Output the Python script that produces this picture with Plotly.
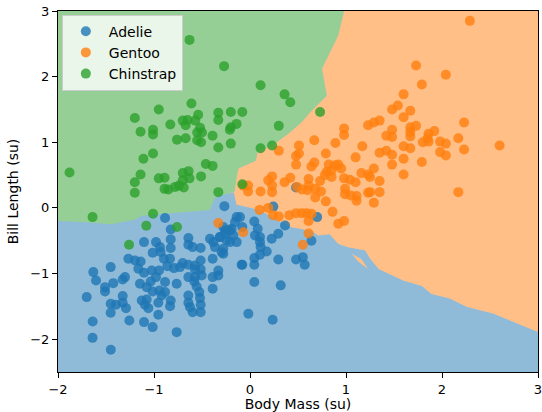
import plotly.graph_objects as go

# ---------------- data (standardised units) ----------------
adelie_x = [-0.885, -0.826, -1.104, -0.979, -0.938, -1.014, -0.931, -0.826, -0.826, -0.642,
            -0.642, -0.597, -0.514, -0.417, -0.382, -0.365, -0.313, -0.26, -0.191, -0.174,
            -0.243, -0.278, -0.278, -0.208, -0.139, -0.156, -0.104, -1.267, -1.198, -1.139,
            -1.163, -1.451, -1.632, -1.604, -1.104, -1.024, -0.948, -0.979, -1.035, -0.896,
            -0.833, -0.861, -0.792, -0.729, -0.701, -0.642, -0.514, -0.573, -0.573, -0.514,
            -0.503, -0.573, -0.642, -0.389, -0.389, -0.33, -0.33, -0.087, -1.302, -1.326,
            -1.424, -1.51, -1.51, -1.701, -1.146, -1.076, -1.014, -0.944, -0.885, -0.885,
            -0.92, -0.955, -0.826, -0.833, -0.764, -0.58, -0.556, -0.528, -0.642, -0.642,
            -0.625, -0.597, -0.521, -0.514, -0.514, -0.389, -1.326, -1.326, -1.396, -1.451,
            -1.451, -1.292, -1.128, -1.094, -1.059, -1.076, -0.955, -1.104, -1.014, -1.257,
            -1.639, -0.764, -1.64, -1.45, -0.267, -0.139, -0.208, -0.08, 0.045, 0.08,
            0.052, 0.104, 0.104, 0.111, 0.174, 0.104, 0.045, 0.045, 0.226, 0.295,
            0.365, 0.243, 0.48, 0.70, 0.64, 0.295, 0.48, 0.55, 0.57, -0.08,
            0.045, 0.32, -0.017, 0.236, -0.278, -0.26, -0.313, -0.295, -0.226]
adelie_y = [-0.155, -0.328, -0.521, -0.521, -0.597, -0.684, -0.673, -0.48, -0.612, -0.46,
            -0.561, -0.597, -0.612, -0.47, -0.521, -0.597, -0.445, -0.343, -0.318, -0.419,
            -0.495, -0.622, -0.699, -0.521, -0.521, -0.216, -0.14, -0.775, -0.8, -0.816,
            -0.927, -0.902, -0.978, -1.105, -0.988, -0.953, -0.953, -1.054, -1.12, -0.775,
            -0.775, -0.887, -0.917, -0.902, -0.841, -0.866, -0.8, -0.877, -0.937, -0.937,
            -1.029, -1.054, -1.054, -0.775, -1.054, -1.029, -0.953, -0.866, -1.054, -1.09,
            -1.146, -1.207, -1.273, -1.359, -1.156, -1.207, -1.273, -1.258, -1.13, -1.283,
            -1.334, -1.446, -1.41, -1.497, -1.156, -1.12, -1.197, -1.283, -1.334, -1.446,
            -1.512, -1.588, -1.374, -1.476, -1.588, -1.232, -1.344, -1.446, -1.476, -1.461,
            -1.598, -1.527, -1.41, -1.476, -1.527, -1.395, -1.628, -1.74, -1.816, -1.715,
            -1.73, -1.893, -1.98, -2.16, 0.027, -0.14, -0.343, -0.29, -0.206, -0.317,
            -0.419, -0.445, -0.521, -0.597, -0.663, -0.714, -0.765, -0.866, -0.47, -0.394,
            -0.267, 0.02, 0.31, -0.14, -0.50, -0.785, -0.785, -0.75, -0.866, -0.866,
            -1.13, -1.18, -1.613, -1.705, -0.29, -0.394, -0.445, -0.674, -0.343]

gentoo_x = [2.29, 1.73, 2.04, 1.79, 1.60, 1.48, 1.54, 1.67, 1.60, 1.35,
            1.29, 1.23, 2.23, 1.67, 1.67, 1.73, 1.67, 1.48, 1.48, 1.42,
            1.92, 1.86, 1.85, 1.86, 1.80, 2.17, 1.98, 2.04, 2.60, 2.23,
            1.60, 1.67, 1.42, 1.35, 1.48, 1.98, 2.04, 1.60, 1.79, 1.48,
            1.29, 1.60, 1.25, 1.35, 1.25, 1.35, 2.17, 1.29, 0.98, 0.98,
            0.67, 0.89, 1.17, 0.51, 0.51, 0.48, 0.48, 0.79, 1.10, 0.67,
            0.64, 0.82, 0.89, 0.92, 0.95, 0.85, 0.80, 0.78, 0.85, 1.16,
            1.23, 0.23, 0.19, 0.23, 0.23, 0.42, 0.36, 0.61, 0.61, 0.60,
            0.73, 0.98, 1.04, 1.10, 0.99, 0.99, 1.05, 1.11, 1.23, 0.68,
            0.68, 0.74, 0.54, 0.49, 0.79, 0.86, -0.02, -0.02, -0.07, 0.11,
            0.19, 0.10, 0.48, 0.54, 0.59, 0.64, 0.41, 0.24, 0.30, 0.30,
            0.61, 0.55, -0.33, -0.07, 0.61, 0.92, 0.98, 1.11]
gentoo_y = [2.85, 2.17, 2.03, 1.88, 1.73, 1.50, 1.56, 1.48, 1.38, 1.33,
            1.30, 1.26, 1.30, 1.23, 1.16, 1.25, 1.09, 1.19, 1.08, 1.10,
            1.17, 1.13, 1.06, 1.01, 1.00, 1.06, 1.01, 0.98, 0.95, 0.89,
            0.94, 0.91, 0.87, 0.84, 0.81, 0.85, 0.80, 0.75, 0.70, 0.66,
            0.60, 0.51, 0.47, 0.41, 0.24, 0.24, 0.24, 0.08, 1.21, 1.11,
            1.03, 0.99, 0.94, 0.95, 0.83, 0.79, 0.66, 0.83, 0.77, 0.69,
            0.63, 0.66, 0.65, 0.66, 0.60, 0.57, 0.55, 0.50, 0.47, 0.53,
            0.51, 0.48, 0.42, 0.34, 0.24, 0.46, 0.39, 0.44, 0.34, 0.27,
            0.41, 0.45, 0.43, 0.39, 0.29, 0.21, 0.19, 0.18, 0.23, 0.29,
            0.16, 0.25, 0.28, 0.32, 0.10, -0.06, 0.34, 0.25, 0.34, 0.25,
            0.00, -0.03, -0.08, -0.08, -0.08, -0.09, -0.11, -0.11, -0.13, 0.87,
            -0.39, -0.56, -0.23, -0.37, -0.20, -0.24, -0.20, 0.11]

chinstrap_x = [-0.63, -0.27, 0.11, 0.36, 0.42, -0.61, -0.95, -1.20, -0.83, -0.70,
               -0.65, -0.67, -0.57, -0.54, -0.33, -0.33, -0.20, -0.08, -1.14, -1.01,
               -1.01, -0.52, -0.55, -0.50, -0.55, -0.51, -0.76, -0.67, -0.39, -0.20,
               -0.14, -0.21, 0.30, 0.73, -0.33, -0.20, 0.11, 0.23, -1.01, -1.11,
               -0.46, -0.39, -1.88, -1.14, -1.20, -1.20, -0.95, -0.89, -0.70, -0.64,
               -0.63, -0.70, -0.51, -0.89, -0.85, -0.78, -0.74, -0.69, -0.33, -0.08,
               -1.64, -1.01, -1.08, -0.76, -1.26]
chinstrap_y = [2.56, 2.16, 1.87, 1.73, 1.61, 1.59, 1.50, 1.37, 1.27, 1.33,
               1.34, 1.26, 1.33, 1.42, 1.45, 1.34, 1.46, 1.46, 1.16, 1.19,
               1.12, 1.22, 1.15, 1.15, 1.03, 1.00, 1.04, 1.06, 1.10, 1.23,
               1.28, 1.19, 1.25, 1.46, 0.92, 0.98, 0.91, 0.95, 0.83, 0.75,
               0.67, 0.64, 0.54, 0.51, 0.39, 0.23, 0.45, 0.46, 0.53, 0.56,
               0.45, 0.42, 0.48, 0.29, 0.28, 0.32, 0.34, 0.31, 0.24, 0.36,
               -0.14, -0.09, -0.27, -0.29, -0.56]

# decision-region boundaries
gb_x = [-2.0, -1.7, -1.45, -1.2, -1.13, -0.9, -0.6, -0.42, -0.38, -0.36, -0.3, -0.25]
gb_y = [-0.20, -0.22, -0.25, -0.18, -0.12, -0.09, -0.06, -0.03, 0.10, 0.165, 0.20, 0.21]
go_x = [-0.25, -0.16, -0.14, -0.12, 0.06, 0.08, 0.26, 0.40, 0.54, 0.63, 0.80, 0.75, 0.92, 0.97, 0.98]
go_y = [0.21, 0.25, 0.45, 0.60, 0.72, 0.85, 0.98, 1.13, 1.31, 1.46, 1.71, 2.12, 2.63, 2.95, 3.0]
ob_x = [-0.25, -0.17, -0.14, -0.02, 0.09, 0.17, 0.28, 0.37, 0.42, 0.54, 0.64, 0.71, 0.83,
        0.92, 1.02, 1.20, 1.25, 1.34, 1.41, 1.60, 1.79, 1.89, 2.08, 2.26, 2.53, 3.0]
ob_y = [0.21, 0.24, 0.05, 0.01, -0.03, -0.09, -0.19, -0.24, -0.29, -0.32, -0.35, -0.42, -0.40,
        -0.55, -0.60, -0.65, -0.77, -0.93, -0.98, -1.11, -1.19, -1.31, -1.38, -1.51, -1.61, -1.89]
sliver_x = [1.06, 1.16, 1.23, 1.13]
sliver_y = [-0.70, -0.78, -0.93, -0.82]

X_RANGE = [-2, 3]
Y_RANGE = [-2.5, 3]
tick_vals = [-2, -1, 0, 1, 2, 3]

BLUE, ORANGE, GREEN = "#1f77b4", "#ff7f0e", "#2ca02c"
BLUE_BG, ORANGE_BG, GREEN_BG = "#8fbbd9", "#ffbf86", "#95cf95"
FS = 14

fig = go.Figure()

# green region
green_px = gb_x + go_x[1:] + [X_RANGE[0]]
green_py = gb_y + go_y[1:] + [Y_RANGE[1]]
fig.add_trace(go.Scatter(x=green_px, y=green_py, fill="toself", fillcolor=GREEN_BG,
                         mode="lines", line=dict(width=0, color=GREEN_BG),
                         showlegend=False, hoverinfo="skip"))
# orange region
orange_px = go_x + [X_RANGE[1], X_RANGE[1]] + ob_x[::-1][1:]
orange_py = go_y + [Y_RANGE[1], ob_y[-1]] + ob_y[::-1][1:]
fig.add_trace(go.Scatter(x=orange_px, y=orange_py, fill="toself", fillcolor=ORANGE_BG,
                         mode="lines", line=dict(width=0, color=ORANGE_BG),
                         showlegend=False, hoverinfo="skip"))
fig.add_trace(go.Scatter(x=sliver_x, y=sliver_y, fill="toself", fillcolor=ORANGE_BG,
                         mode="lines", line=dict(width=0, color=ORANGE_BG),
                         showlegend=False, hoverinfo="skip"))

for name, xs, ys, col in [("Adelie", adelie_x, adelie_y, BLUE),
                          ("Gentoo", gentoo_x, gentoo_y, ORANGE),
                          ("Chinstrap", chinstrap_x, chinstrap_y, GREEN)]:
    fig.add_trace(go.Scatter(x=xs, y=ys, mode="markers", name=name,
                             marker=dict(color=col, size=10, opacity=0.8, line=dict(width=0))))

axis_common = dict(showline=True, linecolor="black", linewidth=1, mirror=True,
                   ticks="outside", ticklen=5, tickwidth=1, tickcolor="black",
                   showgrid=False, zeroline=False, tickvals=tick_vals,
                   ticklabeloverflow="allow",
                   tickfont=dict(size=13, color="black"))
fig.update_xaxes(range=X_RANGE, title=dict(text="Body Mass (su)", font=dict(size=FS, color="black"),
                                           standoff=5), **axis_common)
fig.update_yaxes(range=Y_RANGE, title=dict(text="Bill Length (su)", font=dict(size=FS, color="black"),
                                           standoff=8), **axis_common)

fig.update_layout(
    width=542, height=412,
    margin=dict(l=58, r=4, t=11, b=40, autoexpand=False),
    plot_bgcolor=BLUE_BG, paper_bgcolor="white",
    font=dict(family="DejaVu Sans", size=FS, color="black"),
    legend=dict(x=0.008, y=0.99, xanchor="left", yanchor="top",
                bgcolor="rgba(255,255,255,0.8)", bordercolor="#cccccc", borderwidth=1,
                font=dict(size=FS), tracegroupgap=0, itemwidth=36),
)

fig.write_html("out.html", config={"displayModeBar": False},
               post_script="document.body.style.margin='0px';")
